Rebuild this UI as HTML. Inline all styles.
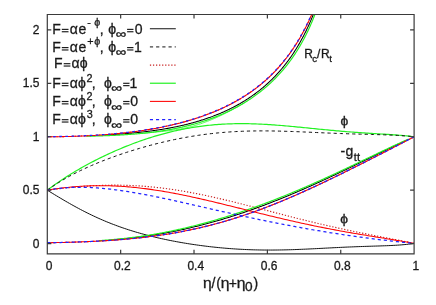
<!DOCTYPE html>
<html><head><meta charset="utf-8"><title>plot</title>
<style>
html,body{margin:0;padding:0;background:#fff;}
svg{display:block;}
text{font-family:"Liberation Sans",sans-serif;fill:#1a1a1a;white-space:pre;stroke:#1a1a1a;stroke-width:0.3px;}
path{fill:none;}
</style></head><body>
<svg width="436" height="305" viewBox="0 0 436 305">
<rect width="436" height="305" fill="#fff"/>
<defs><filter id="bl" x="0" y="0" width="436" height="305" filterUnits="userSpaceOnUse"><feGaussianBlur stdDeviation="0.35"/></filter><clipPath id="c"><rect x="47.30" y="14.50" width="366.80" height="239.30"/></clipPath></defs>
<g clip-path="url(#c)">
<path d="M108.53,134.84 L109.21,134.80 L109.89,134.76 L110.57,134.71 L111.25,134.67 L111.93,134.63 L112.61,134.59 L113.29,134.54 L113.97,134.50 L114.65,134.45 L115.33,134.41 L116.01,134.36 L116.69,134.31 L117.37,134.27 L118.05,134.22 L118.73,134.17 L119.41,134.12 L120.09,134.07 L120.77,134.02 L121.45,133.97 L122.13,133.91 L122.81,133.86 L123.49,133.81 L124.17,133.75 L124.85,133.70 L125.53,133.64 L126.21,133.59 L126.89,133.53 L127.57,133.47 L128.25,133.41 L128.93,133.35 L129.61,133.29 L130.29,133.23 L130.97,133.17 L131.65,133.11 L132.34,133.05 L133.02,132.98 L133.70,132.92 L134.38,132.85 L135.06,132.78 L135.74,132.72 L136.42,132.65 L137.10,132.58 L137.78,132.51 L138.46,132.44 L139.14,132.37 L139.82,132.29 L140.50,132.22 L141.18,132.14 L141.86,132.07 L142.54,131.99 L143.22,131.91 L143.90,131.84 L144.58,131.76 L145.26,131.67 L145.94,131.59 L146.62,131.51 L147.30,131.43 L147.98,131.34 L148.66,131.26 L149.34,131.17 L150.02,131.08 L150.70,130.99 L151.38,130.90 L152.06,130.81 L152.74,130.72 L153.42,130.62 L154.10,130.53 L154.78,130.43 L155.46,130.33 L156.14,130.23 L156.83,130.13 L157.51,130.03 L158.19,129.93 L158.87,129.83 L159.55,129.72 L160.23,129.62 L160.91,129.51 L161.59,129.40 L162.27,129.29 L162.95,129.18 L163.63,129.06 L164.31,128.95 L164.99,128.83 L165.67,128.72 L166.35,128.60 L167.03,128.48 L167.71,128.36 L168.39,128.24 L169.07,128.11 L169.75,127.99 L170.43,127.86 L171.11,127.73 L171.79,127.60 L172.47,127.47 L173.15,127.33 L173.83,127.20 L174.51,127.06 L175.19,126.93 L175.87,126.79 L176.55,126.64 L177.23,126.50 L177.91,126.36 L178.59,126.21 L179.27,126.06 L179.95,125.91 L180.64,125.76 L181.32,125.61 L182.00,125.45 L182.68,125.30 L183.36,125.14 L184.04,124.98 L184.72,124.82 L185.40,124.65 L186.08,124.49 L186.76,124.32 L187.44,124.15 L188.12,123.98 L188.80,123.81 L189.48,123.63 L190.16,123.45 L190.84,123.27 L191.52,123.09 L192.20,122.91 L192.88,122.72 L193.56,122.54 L194.24,122.35 L194.92,122.16 L195.60,121.96 L196.28,121.77 L196.96,121.57 L197.64,121.37 L198.32,121.17 L199.00,120.96 L199.68,120.76 L200.36,120.55 L201.04,120.34 L201.72,120.12 L202.40,119.91 L203.08,119.69 L203.76,119.47 L204.44,119.25 L205.13,119.02 L205.81,118.79 L206.49,118.56 L207.17,118.33 L207.85,118.09 L208.53,117.86 L209.21,117.62 L209.89,117.37 L210.57,117.13 L211.25,116.88 L211.93,116.63 L212.61,116.37 L213.29,116.12 L213.97,115.86 L214.65,115.60 L215.33,115.33 L216.01,115.07 L216.69,114.79 L217.37,114.52 L218.05,114.25 L218.73,113.97 L219.41,113.68 L220.09,113.40 L220.77,113.11 L221.45,112.82 L222.13,112.53 L222.81,112.23 L223.49,111.93 L224.17,111.62 L224.85,111.32 L225.53,111.01 L226.21,110.69 L226.89,110.38 L227.57,110.06 L228.25,109.73 L228.93,109.41 L229.62,109.07 L230.30,108.74 L230.98,108.40 L231.66,108.06 L232.34,107.72 L233.02,107.37 L233.70,107.01 L234.38,106.66 L235.06,106.30 L235.74,105.93 L236.42,105.57 L237.10,105.19 L237.78,104.82 L238.46,104.44 L239.14,104.05 L239.82,103.67 L240.50,103.27 L241.18,102.88 L241.86,102.48 L242.54,102.07 L243.22,101.66 L243.90,101.25 L244.58,100.83 L245.26,100.40 L245.94,99.98 L246.62,99.54 L247.30,99.10 L247.98,98.66 L248.66,98.21 L249.34,97.76 L250.02,97.30 L250.70,96.84 L251.38,96.37 L252.06,95.90 L252.74,95.42 L253.43,94.94 L254.11,94.45 L254.79,93.96 L255.47,93.46 L256.15,92.95 L256.83,92.44 L257.51,91.92 L258.19,91.40 L258.87,90.87 L259.55,90.33 L260.23,89.79 L260.91,89.24 L261.59,88.69 L262.27,88.12 L262.95,87.56 L263.63,86.98 L264.31,86.40 L264.99,85.81 L265.67,85.22 L266.35,84.61 L267.03,84.00 L267.71,83.39 L268.39,82.76 L269.07,82.13 L269.75,81.49 L270.43,80.84 L271.11,80.19 L271.79,79.52 L272.47,78.85 L273.15,78.17 L273.83,77.48 L274.51,76.78 L275.19,76.07 L275.87,75.36 L276.55,74.63 L277.23,73.90 L277.92,73.15 L278.60,72.40 L279.28,71.63 L279.96,70.86 L280.64,70.08 L281.32,69.28 L282.00,68.48 L282.68,67.66 L283.36,66.83 L284.04,65.99 L284.72,65.14 L285.40,64.28 L286.08,63.41 L286.76,62.52 L287.44,61.62 L288.12,60.71 L288.80,59.78 L289.48,58.84 L290.16,57.89 L290.84,56.93 L291.52,55.94 L292.20,54.95 L292.88,53.94 L293.56,52.92 L294.24,51.87 L294.92,50.82 L295.60,49.75 L296.28,48.66 L296.96,47.55 L297.64,46.43 L298.32,45.28 L299.00,44.12 L299.68,42.94 L300.36,41.75 L301.04,40.53 L301.72,39.29 L302.41,38.03 L303.09,36.75 L303.77,35.45 L304.45,34.12 L305.13,32.78 L305.81,31.41 L306.49,30.01 L307.17,28.59 L307.85,27.15 L308.53,25.68 L309.21,24.18 L309.89,22.65 L310.57,21.09 L311.25,19.51 L311.93,17.90 L312.61,16.25 L313.29,14.57 L313.97,12.86 L314.65,11.12 L315.33,9.34 L316.01,7.52 L316.69,5.67 L317.37,3.77 L318.05,1.84 L318.73,-0.13" stroke="#000" stroke-width="1.05"/>
<path d="M47.30,190.20 L49.14,191.32 L50.99,192.45 L52.83,193.57 L54.67,194.69 L56.52,195.80 L58.36,196.91 L60.20,198.01 L62.05,199.10 L63.89,200.19 L65.73,201.27 L67.58,202.33 L69.42,203.39 L71.26,204.43 L73.11,205.46 L74.95,206.48 L76.79,207.49 L78.63,208.48 L80.48,209.46 L82.32,210.42 L84.16,211.37 L86.01,212.31 L87.85,213.23 L89.69,214.14 L91.54,215.03 L93.38,215.90 L95.22,216.76 L97.07,217.61 L98.91,218.44 L100.75,219.25 L102.60,220.05 L104.44,220.84 L106.28,221.61 L108.13,222.36 L109.97,223.10 L111.81,223.83 L113.66,224.54 L115.50,225.23 L117.34,225.92 L119.19,226.58 L121.03,227.24 L122.87,227.88 L124.72,228.51 L126.56,229.13 L128.40,229.73 L130.24,230.32 L132.09,230.90 L133.93,231.46 L135.77,232.02 L137.62,232.56 L139.46,233.09 L141.30,233.61 L143.15,234.12 L144.99,234.62 L146.83,235.10 L148.68,235.58 L150.52,236.05 L152.36,236.51 L154.21,236.95 L156.05,237.39 L157.89,237.82 L159.74,238.24 L161.58,238.65 L163.42,239.06 L165.27,239.45 L167.11,239.83 L168.95,240.21 L170.80,240.58 L172.64,240.94 L174.48,241.29 L176.33,241.64 L178.17,241.98 L180.01,242.31 L181.85,242.63 L183.70,242.94 L185.54,243.25 L187.38,243.55 L189.23,243.85 L191.07,244.13 L192.91,244.41 L194.76,244.68 L196.60,244.95 L198.44,245.21 L200.29,245.46 L202.13,245.70 L203.97,245.94 L205.82,246.17 L207.66,246.40 L209.50,246.62 L211.35,246.83 L213.19,247.03 L215.03,247.23 L216.88,247.42 L218.72,247.60 L220.56,247.78 L222.41,247.95 L224.25,248.12 L226.09,248.27 L227.94,248.42 L229.78,248.57 L231.62,248.70 L233.46,248.83 L235.31,248.96 L237.15,249.08 L238.99,249.19 L240.84,249.29 L242.68,249.39 L244.52,249.48 L246.37,249.56 L248.21,249.64 L250.05,249.71 L251.90,249.77 L253.74,249.83 L255.58,249.88 L257.43,249.92 L259.27,249.96 L261.11,249.99 L262.96,250.02 L264.80,250.04 L266.64,250.05 L268.49,250.06 L270.33,250.06 L272.17,250.05 L274.02,250.04 L275.86,250.03 L277.70,250.01 L279.55,249.98 L281.39,249.95 L283.23,249.91 L285.07,249.87 L286.92,249.83 L288.76,249.78 L290.60,249.72 L292.45,249.66 L294.29,249.60 L296.13,249.53 L297.98,249.46 L299.82,249.39 L301.66,249.31 L303.51,249.23 L305.35,249.15 L307.19,249.07 L309.04,248.98 L310.88,248.89 L312.72,248.80 L314.57,248.71 L316.41,248.62 L318.25,248.52 L320.10,248.43 L321.94,248.33 L323.78,248.24 L325.63,248.14 L327.47,248.05 L329.31,247.95 L331.16,247.86 L333.00,247.76 L334.84,247.67 L336.68,247.58 L338.53,247.49 L340.37,247.40 L342.21,247.31 L344.06,247.23 L345.90,247.14 L347.74,247.06 L349.59,246.98 L351.43,246.91 L353.27,246.83 L355.12,246.76 L356.96,246.69 L358.80,246.62 L360.65,246.56 L362.49,246.49 L364.33,246.43 L366.18,246.37 L368.02,246.31 L369.86,246.25 L371.71,246.20 L373.55,246.14 L375.39,246.08 L377.24,246.02 L379.08,245.97 L380.92,245.90 L382.77,245.84 L384.61,245.78 L386.45,245.71 L388.29,245.63 L390.14,245.55 L391.98,245.46 L393.82,245.37 L395.67,245.27 L397.51,245.15 L399.35,245.03 L401.20,244.89 L403.04,244.73 L404.88,244.56 L406.73,244.38 L408.57,244.17 L410.41,243.94 L412.26,243.68 L414.10,243.40" stroke="#111" stroke-width="1.0"/>
<path d="M113.49,239.74 L114.41,239.66 L115.33,239.58 L116.25,239.50 L117.17,239.42 L118.09,239.34 L119.01,239.26 L119.92,239.17 L120.84,239.08 L121.76,238.99 L122.68,238.90 L123.60,238.81 L124.52,238.72 L125.44,238.62 L126.36,238.53 L127.28,238.43 L128.20,238.33 L129.12,238.23 L130.04,238.13 L130.96,238.02 L131.88,237.92 L132.79,237.81 L133.71,237.70 L134.63,237.59 L135.55,237.48 L136.47,237.37 L137.39,237.25 L138.31,237.14 L139.23,237.02 L140.15,236.90 L141.07,236.78 L141.99,236.65 L142.91,236.53 L143.83,236.40 L144.75,236.27 L145.66,236.14 L146.58,236.01 L147.50,235.88 L148.42,235.75 L149.34,235.61 L150.26,235.47 L151.18,235.33 L152.10,235.19 L153.02,235.05 L153.94,234.90 L154.86,234.76 L155.78,234.61 L156.70,234.46 L157.62,234.31 L158.54,234.16 L159.45,234.00 L160.37,233.84 L161.29,233.69 L162.21,233.53 L163.13,233.36 L164.05,233.20 L164.97,233.04 L165.89,232.87 L166.81,232.70 L167.73,232.53 L168.65,232.36 L169.57,232.19 L170.49,232.01 L171.41,231.83 L172.32,231.65 L173.24,231.47 L174.16,231.29 L175.08,231.11 L176.00,230.92 L176.92,230.73 L177.84,230.54 L178.76,230.35 L179.68,230.16 L180.60,229.96 L181.52,229.77 L182.44,229.57 L183.36,229.37 L184.28,229.17 L185.19,228.97 L186.11,228.76 L187.03,228.55 L187.95,228.34 L188.87,228.13 L189.79,227.92 L190.71,227.71 L191.63,227.49 L192.55,227.28 L193.47,227.06 L194.39,226.84 L195.31,226.61 L196.23,226.39 L197.15,226.16 L198.06,225.94 L198.98,225.71 L199.90,225.47 L200.82,225.24 L201.74,225.01 L202.66,224.77 L203.58,224.53 L204.50,224.29 L205.42,224.05 L206.34,223.81 L207.26,223.56 L208.18,223.32 L209.10,223.07 L210.02,222.82 L210.94,222.57 L211.85,222.31 L212.77,222.06 L213.69,221.80 L214.61,221.54 L215.53,221.28 L216.45,221.02 L217.37,220.75 L218.29,220.49 L219.21,220.22 L220.13,219.95 L221.05,219.68 L221.97,219.41 L222.89,219.14 L223.81,218.86 L224.72,218.58 L225.64,218.30 L226.56,218.02 L227.48,217.74 L228.40,217.46 L229.32,217.17 L230.24,216.88 L231.16,216.60 L232.08,216.31 L233.00,216.01 L233.92,215.72 L234.84,215.42 L235.76,215.13 L236.68,214.83 L237.59,214.53 L238.51,214.23 L239.43,213.92 L240.35,213.62 L241.27,213.31 L242.19,213.00 L243.11,212.69 L244.03,212.38 L244.95,212.07 L245.87,211.75 L246.79,211.44 L247.71,211.12 L248.63,210.80 L249.55,210.48 L250.46,210.16 L251.38,209.83 L252.30,209.51 L253.22,209.18 L254.14,208.85 L255.06,208.52 L255.98,208.19 L256.90,207.86 L257.82,207.52 L258.74,207.18 L259.66,206.85 L260.58,206.51 L261.50,206.17 L262.42,205.82 L263.34,205.48 L264.25,205.14 L265.17,204.79 L266.09,204.44 L267.01,204.09 L267.93,203.74 L268.85,203.39 L269.77,203.03 L270.69,202.68 L271.61,202.32 L272.53,201.96 L273.45,201.60 L274.37,201.24 L275.29,200.88 L276.21,200.52 L277.12,200.15 L278.04,199.78 L278.96,199.42 L279.88,199.05 L280.80,198.68 L281.72,198.30 L282.64,197.93 L283.56,197.56 L284.48,197.18 L285.40,196.80 L286.32,196.42 L287.24,196.04 L288.16,195.66 L289.08,195.28 L289.99,194.90 L290.91,194.51 L291.83,194.13 L292.75,193.74 L293.67,193.35 L294.59,192.96 L295.51,192.57 L296.43,192.18 L297.35,191.78 L298.27,191.39 L299.19,190.99 L300.11,190.59 L301.03,190.20 L301.95,189.80 L302.86,189.40 L303.78,188.99 L304.70,188.59 L305.62,188.19 L306.54,187.78 L307.46,187.38 L308.38,186.97 L309.30,186.56 L310.22,186.15 L311.14,185.74 L312.06,185.33 L312.98,184.92 L313.90,184.50 L314.82,184.09 L315.74,183.67 L316.65,183.26 L317.57,182.84 L318.49,182.42 L319.41,182.00 L320.33,181.58 L321.25,181.16 L322.17,180.74 L323.09,180.31 L324.01,179.89 L324.93,179.46 L325.85,179.04 L326.77,178.61 L327.69,178.18 L328.61,177.75 L329.52,177.32 L330.44,176.89 L331.36,176.46 L332.28,176.03 L333.20,175.60 L334.12,175.17 L335.04,174.73 L335.96,174.30 L336.88,173.86 L337.80,173.43 L338.72,172.99 L339.64,172.55 L340.56,172.11 L341.48,171.68 L342.39,171.24 L343.31,170.80 L344.23,170.36 L345.15,169.92 L346.07,169.47 L346.99,169.03 L347.91,168.59 L348.83,168.15 L349.75,167.70 L350.67,167.26 L351.59,166.81 L352.51,166.37 L353.43,165.92 L354.35,165.48 L355.26,165.03 L356.18,164.59 L357.10,164.14 L358.02,163.69 L358.94,163.25 L359.86,162.80 L360.78,162.35 L361.70,161.90 L362.62,161.45 L363.54,161.01 L364.46,160.56 L365.38,160.11 L366.30,159.66 L367.22,159.21 L368.14,158.76 L369.05,158.31 L369.97,157.86 L370.89,157.41 L371.81,156.96 L372.73,156.51 L373.65,156.07 L374.57,155.62 L375.49,155.17 L376.41,154.72 L377.33,154.27 L378.25,153.82 L379.17,153.37 L380.09,152.92 L381.01,152.48 L381.92,152.03 L382.84,151.58 L383.76,151.13 L384.68,150.69 L385.60,150.24 L386.52,149.79 L387.44,149.35 L388.36,148.90 L389.28,148.46 L390.20,148.02 L391.12,147.57 L392.04,147.13 L392.96,146.69 L393.88,146.24 L394.79,145.80 L395.71,145.36 L396.63,144.92 L397.55,144.48 L398.47,144.05 L399.39,143.61 L400.31,143.17 L401.23,142.74 L402.15,142.30 L403.07,141.87 L403.99,141.44 L404.91,141.00 L405.83,140.57 L406.75,140.14" stroke="#000" stroke-width="1.05"/>
<path d="M47.30,136.75 L48.65,136.75 L50.00,136.75 L51.34,136.74 L52.69,136.73 L54.04,136.73 L55.39,136.71 L56.73,136.70 L58.08,136.69 L59.43,136.67 L60.78,136.65 L62.12,136.63 L63.47,136.61 L64.82,136.58 L66.17,136.55 L67.51,136.52 L68.86,136.49 L70.21,136.46 L71.56,136.42 L72.90,136.38 L74.25,136.34 L75.60,136.30 L76.95,136.25 L78.29,136.20 L79.64,136.15 L80.99,136.10 L82.34,136.04 L83.68,135.98 L85.03,135.92 L86.38,135.86 L87.73,135.79 L89.07,135.72 L90.42,135.65 L91.77,135.58 L93.12,135.50 L94.47,135.42 L95.81,135.34 L97.16,135.26 L98.51,135.17 L99.86,135.08 L101.20,134.99 L102.55,134.89 L103.90,134.79 L105.25,134.69 L106.59,134.58 L107.94,134.48 L109.29,134.36 L110.64,134.25 L111.98,134.13 L113.33,134.01 L114.68,133.89 L116.03,133.76 L117.37,133.63 L118.72,133.50 L120.07,133.36 L121.42,133.22 L122.76,133.07 L124.11,132.93 L125.46,132.78 L126.81,132.62 L128.15,132.46 L129.50,132.30 L130.85,132.13 L132.20,131.96 L133.54,131.79 L134.89,131.61 L136.24,131.43 L137.59,131.25 L138.94,131.06 L140.28,130.86 L141.63,130.67 L142.98,130.46 L144.33,130.26 L145.67,130.05 L147.02,129.83 L148.37,129.61 L149.72,129.39 L151.06,129.16 L152.41,128.93 L153.76,128.69 L155.11,128.45 L156.45,128.20 L157.80,127.95 L159.15,127.69 L160.50,127.43 L161.84,127.16 L163.19,126.89 L164.54,126.61 L165.89,126.33 L167.23,126.04 L168.58,125.74 L169.93,125.44 L171.28,125.14 L172.62,124.83 L173.97,124.51 L175.32,124.19 L176.67,123.86 L178.02,123.52 L179.36,123.18 L180.71,122.83 L182.06,122.48 L183.41,122.12 L184.75,121.75 L186.10,121.37 L187.45,120.99 L188.80,120.60 L190.14,120.21 L191.49,119.81 L192.84,119.39 L194.19,118.98 L195.53,118.55 L196.88,118.12 L198.23,117.67 L199.58,117.22 L200.92,116.77 L202.27,116.30 L203.62,115.82 L204.97,115.34 L206.31,114.85 L207.66,114.35 L209.01,113.83 L210.36,113.31 L211.70,112.78 L213.05,112.24 L214.40,111.69 L215.75,111.13 L217.09,110.56 L218.44,109.98 L219.79,109.38 L221.14,108.78 L222.49,108.16 L223.83,107.53 L225.18,106.89 L226.53,106.24 L227.88,105.58 L229.22,104.90 L230.57,104.21 L231.92,103.50 L233.27,102.79 L234.61,102.05 L235.96,101.31 L237.31,100.55 L238.66,99.77 L240.00,98.98 L241.35,98.17 L242.70,97.35 L244.05,96.51 L245.39,95.65 L246.74,94.77 L248.09,93.88 L249.44,92.97 L250.78,92.03 L252.13,91.08 L253.48,90.11 L254.83,89.12 L256.17,88.10 L257.52,87.07 L258.87,86.01 L260.22,84.93 L261.56,83.82 L262.91,82.69 L264.26,81.53 L265.61,80.35 L266.96,79.14 L268.30,77.90 L269.65,76.64 L271.00,75.34 L272.35,74.01 L273.69,72.65 L275.04,71.26 L276.39,69.84 L277.74,68.38 L279.08,66.88 L280.43,65.34 L281.78,63.77 L283.13,62.15 L284.47,60.49 L285.82,58.79 L287.17,57.04 L288.52,55.25 L289.86,53.41 L291.21,51.51 L292.56,49.57 L293.91,47.57 L295.25,45.51 L296.60,43.39 L297.95,41.21 L299.30,38.96 L300.64,36.64 L301.99,34.26 L303.34,31.80 L304.69,29.26 L306.03,26.64 L307.38,23.94 L308.73,21.14 L310.08,18.25 L311.43,15.27 L312.77,12.18 L314.12,8.98 L315.47,5.66" stroke="#c82020" stroke-width="1.05" stroke-dasharray="1.25 1.8"/>
<path d="M47.30,190.20 L49.14,189.97 L50.99,189.75 L52.83,189.52 L54.67,189.30 L56.52,189.09 L58.36,188.87 L60.20,188.66 L62.05,188.45 L63.89,188.25 L65.73,188.05 L67.58,187.86 L69.42,187.67 L71.26,187.48 L73.11,187.30 L74.95,187.13 L76.79,186.97 L78.63,186.80 L80.48,186.65 L82.32,186.50 L84.16,186.36 L86.01,186.23 L87.85,186.10 L89.69,185.98 L91.54,185.87 L93.38,185.77 L95.22,185.67 L97.07,185.58 L98.91,185.50 L100.75,185.43 L102.60,185.36 L104.44,185.31 L106.28,185.26 L108.13,185.22 L109.97,185.19 L111.81,185.17 L113.66,185.16 L115.50,185.16 L117.34,185.16 L119.19,185.18 L121.03,185.20 L122.87,185.23 L124.72,185.27 L126.56,185.32 L128.40,185.38 L130.24,185.45 L132.09,185.53 L133.93,185.62 L135.77,185.72 L137.62,185.82 L139.46,185.94 L141.30,186.06 L143.15,186.19 L144.99,186.33 L146.83,186.48 L148.68,186.64 L150.52,186.81 L152.36,186.99 L154.21,187.18 L156.05,187.37 L157.89,187.57 L159.74,187.78 L161.58,188.00 L163.42,188.23 L165.27,188.47 L167.11,188.72 L168.95,188.97 L170.80,189.23 L172.64,189.50 L174.48,189.78 L176.33,190.06 L178.17,190.35 L180.01,190.65 L181.85,190.96 L183.70,191.27 L185.54,191.59 L187.38,191.92 L189.23,192.25 L191.07,192.60 L192.91,192.94 L194.76,193.30 L196.60,193.66 L198.44,194.02 L200.29,194.40 L202.13,194.78 L203.97,195.16 L205.82,195.55 L207.66,195.94 L209.50,196.34 L211.35,196.75 L213.19,197.16 L215.03,197.57 L216.88,197.99 L218.72,198.42 L220.56,198.84 L222.41,199.28 L224.25,199.71 L226.09,200.15 L227.94,200.59 L229.78,201.04 L231.62,201.49 L233.46,201.94 L235.31,202.40 L237.15,202.86 L238.99,203.32 L240.84,203.78 L242.68,204.25 L244.52,204.72 L246.37,205.19 L248.21,205.66 L250.05,206.13 L251.90,206.61 L253.74,207.08 L255.58,207.56 L257.43,208.04 L259.27,208.52 L261.11,209.00 L262.96,209.48 L264.80,209.96 L266.64,210.44 L268.49,210.92 L270.33,211.40 L272.17,211.88 L274.02,212.36 L275.86,212.84 L277.70,213.32 L279.55,213.80 L281.39,214.28 L283.23,214.76 L285.07,215.23 L286.92,215.71 L288.76,216.18 L290.60,216.65 L292.45,217.12 L294.29,217.59 L296.13,218.06 L297.98,218.52 L299.82,218.99 L301.66,219.45 L303.51,219.90 L305.35,220.36 L307.19,220.81 L309.04,221.27 L310.88,221.72 L312.72,222.16 L314.57,222.61 L316.41,223.05 L318.25,223.49 L320.10,223.92 L321.94,224.36 L323.78,224.79 L325.63,225.21 L327.47,225.64 L329.31,226.06 L331.16,226.48 L333.00,226.89 L334.84,227.31 L336.68,227.72 L338.53,228.13 L340.37,228.53 L342.21,228.93 L344.06,229.33 L345.90,229.73 L347.74,230.12 L349.59,230.51 L351.43,230.90 L353.27,231.28 L355.12,231.66 L356.96,232.04 L358.80,232.42 L360.65,232.80 L362.49,233.17 L364.33,233.54 L366.18,233.91 L368.02,234.28 L369.86,234.64 L371.71,235.01 L373.55,235.37 L375.39,235.73 L377.24,236.09 L379.08,236.45 L380.92,236.81 L382.77,237.17 L384.61,237.53 L386.45,237.88 L388.29,238.24 L390.14,238.60 L391.98,238.96 L393.82,239.32 L395.67,239.68 L397.51,240.04 L399.35,240.40 L401.20,240.77 L403.04,241.13 L404.88,241.50 L406.73,241.88 L408.57,242.25 L410.41,242.63 L412.26,243.01 L414.10,243.40" stroke="#c82020" stroke-width="1.15" stroke-dasharray="1.25 1.8"/>
<path d="M47.30,242.70 L49.14,242.68 L50.99,242.66 L52.83,242.64 L54.67,242.61 L56.52,242.58 L58.36,242.55 L60.20,242.51 L62.05,242.47 L63.89,242.43 L65.73,242.39 L67.58,242.34 L69.42,242.29 L71.26,242.23 L73.11,242.18 L74.95,242.12 L76.79,242.05 L78.63,241.99 L80.48,241.92 L82.32,241.85 L84.16,241.78 L86.01,241.70 L87.85,241.62 L89.69,241.54 L91.54,241.45 L93.38,241.36 L95.22,241.27 L97.07,241.17 L98.91,241.07 L100.75,240.97 L102.60,240.86 L104.44,240.75 L106.28,240.63 L108.13,240.52 L109.97,240.39 L111.81,240.27 L113.66,240.14 L115.50,240.00 L117.34,239.86 L119.19,239.72 L121.03,239.57 L122.87,239.42 L124.72,239.26 L126.56,239.10 L128.40,238.94 L130.24,238.77 L132.09,238.59 L133.93,238.41 L135.77,238.22 L137.62,238.03 L139.46,237.83 L141.30,237.63 L143.15,237.42 L144.99,237.21 L146.83,236.99 L148.68,236.76 L150.52,236.53 L152.36,236.29 L154.21,236.05 L156.05,235.80 L157.89,235.54 L159.74,235.28 L161.58,235.01 L163.42,234.73 L165.27,234.45 L167.11,234.16 L168.95,233.86 L170.80,233.56 L172.64,233.24 L174.48,232.93 L176.33,232.60 L178.17,232.27 L180.01,231.93 L181.85,231.58 L183.70,231.23 L185.54,230.86 L187.38,230.49 L189.23,230.12 L191.07,229.73 L192.91,229.34 L194.76,228.94 L196.60,228.53 L198.44,228.11 L200.29,227.69 L202.13,227.26 L203.97,226.82 L205.82,226.37 L207.66,225.91 L209.50,225.45 L211.35,224.97 L213.19,224.49 L215.03,224.01 L216.88,223.51 L218.72,223.00 L220.56,222.49 L222.41,221.97 L224.25,221.44 L226.09,220.91 L227.94,220.36 L229.78,219.81 L231.62,219.25 L233.46,218.68 L235.31,218.10 L237.15,217.52 L238.99,216.92 L240.84,216.32 L242.68,215.72 L244.52,215.10 L246.37,214.48 L248.21,213.84 L250.05,213.20 L251.90,212.56 L253.74,211.90 L255.58,211.24 L257.43,210.57 L259.27,209.90 L261.11,209.21 L262.96,208.52 L264.80,207.82 L266.64,207.12 L268.49,206.40 L270.33,205.69 L272.17,204.96 L274.02,204.23 L275.86,203.49 L277.70,202.74 L279.55,201.99 L281.39,201.23 L283.23,200.47 L285.07,199.70 L286.92,198.92 L288.76,198.14 L290.60,197.35 L292.45,196.55 L294.29,195.75 L296.13,194.95 L297.98,194.14 L299.82,193.32 L301.66,192.50 L303.51,191.67 L305.35,190.84 L307.19,190.01 L309.04,189.17 L310.88,188.32 L312.72,187.47 L314.57,186.62 L316.41,185.76 L318.25,184.90 L320.10,184.03 L321.94,183.16 L323.78,182.29 L325.63,181.41 L327.47,180.53 L329.31,179.64 L331.16,178.76 L333.00,177.87 L334.84,176.97 L336.68,176.08 L338.53,175.18 L340.37,174.27 L342.21,173.37 L344.06,172.46 L345.90,171.55 L347.74,170.64 L349.59,169.73 L351.43,168.81 L353.27,167.89 L355.12,166.97 L356.96,166.05 L358.80,165.12 L360.65,164.20 L362.49,163.27 L364.33,162.34 L366.18,161.41 L368.02,160.48 L369.86,159.55 L371.71,158.61 L373.55,157.68 L375.39,156.74 L377.24,155.80 L379.08,154.86 L380.92,153.92 L382.77,152.98 L384.61,152.03 L386.45,151.09 L388.29,150.14 L390.14,149.20 L391.98,148.25 L393.82,147.30 L395.67,146.35 L397.51,145.40 L399.35,144.44 L401.20,143.49 L403.04,142.53 L404.88,141.57 L406.73,140.61 L408.57,139.65 L410.41,138.68 L412.26,137.72 L414.10,136.75" stroke="#c82020" stroke-width="1.05" stroke-dasharray="1.25 1.8"/>
<path d="M140.00,133.55 L141.78,133.39 L143.56,133.22 L145.34,133.06 L147.12,132.90 L148.90,132.74 L150.68,132.58 L152.46,132.42 L154.24,132.26 L156.02,132.09 L157.80,131.92 L159.58,131.75 L161.36,131.57 L163.14,131.39 L164.92,131.19 L166.69,130.99 L168.47,130.77 L170.25,130.54 L172.03,130.30 L173.81,130.05 L175.59,129.78 L177.37,129.49 L179.15,129.18 L180.93,128.86 L182.71,128.51 L184.49,128.15 L186.27,127.76 L188.05,127.35 L189.83,126.91 L191.61,126.46 L193.39,125.98 L195.17,125.47 L196.95,124.94 L198.73,124.39 L200.51,123.81 L202.29,123.20 L204.07,122.58 L205.85,121.92 L207.63,121.25 L209.41,120.55 L211.19,119.83 L212.97,119.08 L214.75,118.32 L216.53,117.53 L218.31,116.72 L220.08,115.89 L221.86,115.04 L223.64,114.18 L225.42,113.29 L227.20,112.38 L228.98,111.46 L230.76,110.52 L232.54,109.56 L234.32,108.59 L236.10,107.60 L237.88,106.59 L239.66,105.56 L241.44,104.51 L243.22,103.45 L245.00,102.37" stroke="#3f3" stroke-width="0.8"/>
<path d="M86.34,136.26 L87.02,136.25 L87.71,136.23 L88.39,136.21 L89.08,136.20 L89.76,136.18 L90.45,136.16 L91.13,136.15 L91.82,136.13 L92.50,136.11 L93.19,136.09 L93.87,136.07 L94.56,136.05 L95.24,136.04 L95.93,136.02 L96.61,136.00 L97.30,135.98 L97.98,135.95 L98.67,135.93 L99.35,135.91 L100.04,135.89 L100.72,135.87 L101.41,135.84 L102.09,135.82 L102.78,135.80 L103.46,135.77 L104.14,135.75 L104.83,135.72 L105.51,135.70 L106.20,135.67 L106.88,135.65 L107.57,135.62 L108.25,135.59 L108.94,135.56 L109.62,135.53 L110.31,135.50 L110.99,135.48 L111.68,135.44 L112.36,135.41 L113.05,135.38 L113.73,135.35 L114.42,135.32 L115.10,135.28 L115.79,135.25 L116.47,135.22 L117.16,135.18 L117.84,135.14 L118.53,135.11 L119.21,135.07 L119.90,135.03 L120.58,134.99 L121.27,134.95 L121.95,134.91 L122.64,134.87 L123.32,134.83 L124.01,134.79 L124.69,134.75 L125.38,134.70 L126.06,134.66 L126.75,134.61 L127.43,134.57 L128.12,134.52 L128.80,134.47 L129.49,134.42 L130.17,134.37 L130.86,134.32 L131.54,134.27 L132.22,134.22 L132.91,134.16 L133.59,134.11 L134.28,134.05 L134.96,134.00 L135.65,133.94 L136.33,133.88 L137.02,133.82 L137.70,133.76 L138.39,133.70 L139.07,133.64 L139.76,133.57 L140.44,133.51 L141.13,133.44 L141.81,133.38 L142.50,133.31 L143.18,133.24 L143.87,133.17 L144.55,133.10 L145.24,133.03 L145.92,132.96 L146.61,132.88 L147.29,132.80 L147.98,132.73 L148.66,132.65 L149.35,132.57 L150.03,132.49 L150.72,132.41 L151.40,132.32 L152.09,132.24 L152.77,132.15 L153.46,132.07 L154.14,131.98 L154.83,131.89 L155.51,131.80 L156.20,131.71 L156.88,131.61 L157.57,131.52 L158.25,131.42 L158.93,131.32 L159.62,131.22 L160.30,131.12 L160.99,131.02 L161.67,130.92 L162.36,130.81 L163.04,130.71 L163.73,130.60 L164.41,130.49 L165.10,130.38 L165.78,130.27 L166.47,130.15 L167.15,130.04 L167.84,129.92 L168.52,129.80 L169.21,129.68 L169.89,129.56 L170.58,129.43 L171.26,129.31 L171.95,129.18 L172.63,129.05 L173.32,128.92 L174.00,128.79 L174.69,128.66 L175.37,128.52 L176.06,128.38 L176.74,128.24 L177.43,128.10 L178.11,127.96 L178.80,127.82 L179.48,127.67 L180.17,127.52 L180.85,127.37 L181.54,127.22 L182.22,127.06 L182.91,126.91 L183.59,126.75 L184.28,126.59 L184.96,126.43 L185.65,126.27 L186.33,126.10 L187.01,125.93 L187.70,125.76 L188.38,125.59 L189.07,125.42 L189.75,125.24 L190.44,125.07 L191.12,124.89 L191.81,124.70 L192.49,124.52 L193.18,124.33 L193.86,124.15 L194.55,123.96 L195.23,123.76 L195.92,123.57 L196.60,123.37 L197.29,123.17 L197.97,122.97 L198.66,122.77 L199.34,122.56 L200.03,122.35 L200.71,122.14 L201.40,121.93 L202.08,121.71 L202.77,121.49 L203.45,121.27 L204.14,121.05 L204.82,120.82 L205.51,120.59 L206.19,120.36 L206.88,120.13 L207.56,119.90 L208.25,119.66 L208.93,119.42 L209.62,119.17 L210.30,118.93 L210.99,118.68 L211.67,118.43 L212.36,118.17 L213.04,117.92 L213.73,117.66 L214.41,117.39 L215.09,117.13 L215.78,116.86 L216.46,116.59 L217.15,116.32 L217.83,116.04 L218.52,115.76 L219.20,115.48 L219.89,115.19 L220.57,114.90 L221.26,114.61 L221.94,114.32 L222.63,114.02 L223.31,113.72 L224.00,113.41 L224.68,113.11 L225.37,112.79 L226.05,112.48 L226.74,112.16 L227.42,111.84 L228.11,111.52 L228.79,111.19 L229.48,110.86 L230.16,110.53 L230.85,110.19 L231.53,109.85 L232.22,109.50 L232.90,109.16 L233.59,108.80 L234.27,108.45 L234.96,108.09 L235.64,107.73 L236.33,107.36 L237.01,106.99 L237.70,106.61 L238.38,106.24 L239.07,105.85 L239.75,105.47 L240.44,105.08 L241.12,104.68 L241.81,104.28 L242.49,103.88 L243.17,103.47 L243.86,103.06 L244.54,102.65 L245.23,102.22 L245.91,101.80 L246.60,101.37 L247.28,100.94 L247.97,100.50 L248.65,100.06 L249.34,99.61 L250.02,99.15 L250.71,98.70 L251.39,98.23 L252.08,97.77 L252.76,97.29 L253.45,96.82 L254.13,96.33 L254.82,95.84 L255.50,95.35 L256.19,94.85 L256.87,94.35 L257.56,93.84 L258.24,93.32 L258.93,92.80 L259.61,92.27 L260.30,91.74 L260.98,91.20 L261.67,90.65 L262.35,90.10 L263.04,89.54 L263.72,88.98 L264.41,88.41 L265.09,87.83 L265.78,87.25 L266.46,86.65 L267.15,86.06 L267.83,85.45 L268.52,84.84 L269.20,84.22 L269.89,83.59 L270.57,82.96 L271.25,82.32 L271.94,81.67 L272.62,81.01 L273.31,80.34 L273.99,79.67 L274.68,78.98 L275.36,78.29 L276.05,77.59 L276.73,76.88 L277.42,76.16 L278.10,75.44 L278.79,74.70 L279.47,73.95 L280.16,73.20 L280.84,72.43 L281.53,71.65 L282.21,70.87 L282.90,70.07 L283.58,69.26 L284.27,68.44 L284.95,67.61 L285.64,66.77 L286.32,65.91 L287.01,65.04 L287.69,64.17 L288.38,63.27 L289.06,62.37 L289.75,61.45 L290.43,60.52 L291.12,59.57 L291.80,58.61 L292.49,57.64 L293.17,56.65 L293.86,55.64 L294.54,54.62 L295.23,53.59 L295.91,52.53 L296.60,51.46 L297.28,50.38 L297.97,49.27 L298.65,48.15 L299.33,47.01 L300.02,45.84 L300.70,44.66 L301.39,43.46 L302.07,42.24 L302.76,40.99 L303.44,39.73 L304.13,38.44 L304.81,37.12 L305.50,35.79 L306.18,34.43 L306.87,33.04 L307.55,31.62 L308.24,30.18 L308.92,28.71 L309.61,27.22 L310.29,25.69 L310.98,24.13 L311.66,22.54 L312.35,20.91 L313.03,19.26 L313.72,17.56 L314.40,15.83 L315.09,14.07 L315.77,12.26 L316.46,10.42 L317.14,8.53 L317.83,6.60 L318.51,4.62 L319.20,2.60 L319.88,0.53 L320.57,-1.59" stroke="#22f222" stroke-width="1.2"/>
<path d="M47.30,190.20 L49.14,188.81 L50.99,187.44 L52.83,186.10 L54.67,184.78 L56.52,183.48 L58.36,182.21 L60.20,180.95 L62.05,179.72 L63.89,178.50 L65.73,177.31 L67.58,176.13 L69.42,174.97 L71.26,173.83 L73.11,172.70 L74.95,171.60 L76.79,170.51 L78.63,169.43 L80.48,168.37 L82.32,167.32 L84.16,166.29 L86.01,165.28 L87.85,164.27 L89.69,163.29 L91.54,162.31 L93.38,161.35 L95.22,160.40 L97.07,159.47 L98.91,158.54 L100.75,157.64 L102.60,156.74 L104.44,155.85 L106.28,154.98 L108.13,154.12 L109.97,153.27 L111.81,152.44 L113.66,151.61 L115.50,150.80 L117.34,150.00 L119.19,149.21 L121.03,148.43 L122.87,147.66 L124.72,146.91 L126.56,146.17 L128.40,145.44 L130.24,144.72 L132.09,144.01 L133.93,143.31 L135.77,142.63 L137.62,141.96 L139.46,141.30 L141.30,140.65 L143.15,140.01 L144.99,139.39 L146.83,138.77 L148.68,138.17 L150.52,137.58 L152.36,137.01 L154.21,136.44 L156.05,135.89 L157.89,135.35 L159.74,134.82 L161.58,134.30 L163.42,133.80 L165.27,133.30 L167.11,132.82 L168.95,132.36 L170.80,131.90 L172.64,131.46 L174.48,131.03 L176.33,130.61 L178.17,130.21 L180.01,129.81 L181.85,129.43 L183.70,129.07 L185.54,128.71 L187.38,128.37 L189.23,128.04 L191.07,127.72 L192.91,127.42 L194.76,127.12 L196.60,126.84 L198.44,126.58 L200.29,126.32 L202.13,126.08 L203.97,125.85 L205.82,125.63 L207.66,125.42 L209.50,125.23 L211.35,125.04 L213.19,124.87 L215.03,124.71 L216.88,124.57 L218.72,124.43 L220.56,124.31 L222.41,124.19 L224.25,124.09 L226.09,124.00 L227.94,123.92 L229.78,123.85 L231.62,123.79 L233.46,123.75 L235.31,123.71 L237.15,123.68 L238.99,123.66 L240.84,123.66 L242.68,123.66 L244.52,123.67 L246.37,123.69 L248.21,123.72 L250.05,123.76 L251.90,123.81 L253.74,123.86 L255.58,123.92 L257.43,123.99 L259.27,124.07 L261.11,124.16 L262.96,124.25 L264.80,124.35 L266.64,124.46 L268.49,124.57 L270.33,124.69 L272.17,124.82 L274.02,124.95 L275.86,125.08 L277.70,125.23 L279.55,125.37 L281.39,125.52 L283.23,125.68 L285.07,125.84 L286.92,126.00 L288.76,126.16 L290.60,126.33 L292.45,126.50 L294.29,126.68 L296.13,126.85 L297.98,127.03 L299.82,127.21 L301.66,127.39 L303.51,127.58 L305.35,127.76 L307.19,127.94 L309.04,128.13 L310.88,128.31 L312.72,128.50 L314.57,128.68 L316.41,128.87 L318.25,129.05 L320.10,129.23 L321.94,129.41 L323.78,129.59 L325.63,129.77 L327.47,129.95 L329.31,130.12 L331.16,130.29 L333.00,130.46 L334.84,130.63 L336.68,130.80 L338.53,130.96 L340.37,131.12 L342.21,131.28 L344.06,131.43 L345.90,131.58 L347.74,131.73 L349.59,131.88 L351.43,132.02 L353.27,132.16 L355.12,132.30 L356.96,132.43 L358.80,132.56 L360.65,132.69 L362.49,132.82 L364.33,132.94 L366.18,133.06 L368.02,133.18 L369.86,133.30 L371.71,133.42 L373.55,133.54 L375.39,133.65 L377.24,133.76 L379.08,133.88 L380.92,133.99 L382.77,134.11 L384.61,134.22 L386.45,134.34 L388.29,134.46 L390.14,134.58 L391.98,134.71 L393.82,134.84 L395.67,134.97 L397.51,135.11 L399.35,135.26 L401.20,135.41 L403.04,135.57 L404.88,135.74 L406.73,135.92 L408.57,136.11 L410.41,136.31 L412.26,136.52 L414.10,136.75" stroke="#22f222" stroke-width="1.2"/>
<path d="M47.30,190.20 L49.14,188.88 L50.99,187.58 L52.83,186.33 L54.67,185.10 L56.52,183.90 L58.36,182.73 L60.20,181.59 L62.05,180.48 L63.89,179.39 L65.73,178.32 L67.58,177.28 L69.42,176.27 L71.26,175.27 L73.11,174.29 L74.95,173.34 L76.79,172.40 L78.63,171.48 L80.48,170.58 L82.32,169.70 L84.16,168.83 L86.01,167.98 L87.85,167.14 L89.69,166.32 L91.54,165.52 L93.38,164.72 L95.22,163.94 L97.07,163.18 L98.91,162.42 L100.75,161.68 L102.60,160.95 L104.44,160.23 L106.28,159.52 L108.13,158.82 L109.97,158.13 L111.81,157.45 L113.66,156.79 L115.50,156.13 L117.34,155.48 L119.19,154.84 L121.03,154.21 L122.87,153.59 L124.72,152.98 L126.56,152.37 L128.40,151.78 L130.24,151.19 L132.09,150.61 L133.93,150.04 L135.77,149.48 L137.62,148.93 L139.46,148.38 L141.30,147.85 L143.15,147.32 L144.99,146.80 L146.83,146.28 L148.68,145.78 L150.52,145.28 L152.36,144.79 L154.21,144.31 L156.05,143.84 L157.89,143.38 L159.74,142.92 L161.58,142.47 L163.42,142.04 L165.27,141.60 L167.11,141.18 L168.95,140.77 L170.80,140.36 L172.64,139.96 L174.48,139.57 L176.33,139.19 L178.17,138.82 L180.01,138.46 L181.85,138.10 L183.70,137.76 L185.54,137.42 L187.38,137.09 L189.23,136.77 L191.07,136.46 L192.91,136.16 L194.76,135.86 L196.60,135.58 L198.44,135.30 L200.29,135.03 L202.13,134.77 L203.97,134.52 L205.82,134.28 L207.66,134.05 L209.50,133.83 L211.35,133.61 L213.19,133.41 L215.03,133.21 L216.88,133.02 L218.72,132.84 L220.56,132.67 L222.41,132.50 L224.25,132.35 L226.09,132.20 L227.94,132.07 L229.78,131.94 L231.62,131.81 L233.46,131.70 L235.31,131.60 L237.15,131.50 L238.99,131.41 L240.84,131.33 L242.68,131.25 L244.52,131.19 L246.37,131.13 L248.21,131.07 L250.05,131.03 L251.90,130.99 L253.74,130.96 L255.58,130.93 L257.43,130.91 L259.27,130.90 L261.11,130.89 L262.96,130.89 L264.80,130.90 L266.64,130.91 L268.49,130.92 L270.33,130.94 L272.17,130.97 L274.02,131.00 L275.86,131.03 L277.70,131.07 L279.55,131.12 L281.39,131.17 L283.23,131.22 L285.07,131.27 L286.92,131.33 L288.76,131.39 L290.60,131.45 L292.45,131.52 L294.29,131.59 L296.13,131.66 L297.98,131.73 L299.82,131.81 L301.66,131.88 L303.51,131.96 L305.35,132.04 L307.19,132.12 L309.04,132.20 L310.88,132.28 L312.72,132.36 L314.57,132.45 L316.41,132.53 L318.25,132.61 L320.10,132.69 L321.94,132.77 L323.78,132.85 L325.63,132.93 L327.47,133.01 L329.31,133.08 L331.16,133.16 L333.00,133.23 L334.84,133.31 L336.68,133.38 L338.53,133.45 L340.37,133.52 L342.21,133.59 L344.06,133.65 L345.90,133.71 L347.74,133.78 L349.59,133.84 L351.43,133.89 L353.27,133.95 L355.12,134.01 L356.96,134.06 L358.80,134.11 L360.65,134.17 L362.49,134.22 L364.33,134.27 L366.18,134.32 L368.02,134.36 L369.86,134.41 L371.71,134.46 L373.55,134.51 L375.39,134.56 L377.24,134.61 L379.08,134.67 L380.92,134.72 L382.77,134.78 L384.61,134.84 L386.45,134.90 L388.29,134.97 L390.14,135.04 L391.98,135.12 L393.82,135.21 L395.67,135.30 L397.51,135.39 L399.35,135.50 L401.20,135.61 L403.04,135.74 L404.88,135.88 L406.73,136.02 L408.57,136.18 L410.41,136.36 L412.26,136.55 L414.10,136.75" stroke="#111" stroke-width="1.0" stroke-dasharray="3.2 3.0"/>
<path d="M98.78,240.67 L99.70,240.61 L100.62,240.55 L101.54,240.49 L102.46,240.42 L103.38,240.36 L104.30,240.29 L105.22,240.22 L106.14,240.16 L107.05,240.08 L107.97,240.01 L108.89,239.94 L109.81,239.86 L110.73,239.79 L111.65,239.71 L112.57,239.63 L113.49,239.55 L114.41,239.46 L115.33,239.38 L116.25,239.29 L117.17,239.20 L118.09,239.12 L119.01,239.02 L119.92,238.93 L120.84,238.84 L121.76,238.74 L122.68,238.64 L123.60,238.55 L124.52,238.44 L125.44,238.34 L126.36,238.24 L127.28,238.13 L128.20,238.03 L129.12,237.92 L130.04,237.81 L130.96,237.69 L131.88,237.58 L132.79,237.46 L133.71,237.35 L134.63,237.23 L135.55,237.11 L136.47,236.98 L137.39,236.86 L138.31,236.73 L139.23,236.61 L140.15,236.48 L141.07,236.34 L141.99,236.21 L142.91,236.08 L143.83,235.94 L144.75,235.80 L145.66,235.66 L146.58,235.52 L147.50,235.38 L148.42,235.23 L149.34,235.09 L150.26,234.94 L151.18,234.79 L152.10,234.63 L153.02,234.48 L153.94,234.32 L154.86,234.17 L155.78,234.01 L156.70,233.85 L157.62,233.68 L158.54,233.52 L159.45,233.35 L160.37,233.19 L161.29,233.02 L162.21,232.84 L163.13,232.67 L164.05,232.50 L164.97,232.32 L165.89,232.14 L166.81,231.96 L167.73,231.78 L168.65,231.59 L169.57,231.41 L170.49,231.22 L171.41,231.03 L172.32,230.84 L173.24,230.65 L174.16,230.46 L175.08,230.26 L176.00,230.06 L176.92,229.86 L177.84,229.66 L178.76,229.46 L179.68,229.26 L180.60,229.05 L181.52,228.84 L182.44,228.63 L183.36,228.42 L184.28,228.21 L185.19,228.00 L186.11,227.78 L187.03,227.56 L187.95,227.34 L188.87,227.12 L189.79,226.90 L190.71,226.67 L191.63,226.45 L192.55,226.22 L193.47,225.99 L194.39,225.76 L195.31,225.53 L196.23,225.29 L197.15,225.06 L198.06,224.82 L198.98,224.58 L199.90,224.34 L200.82,224.10 L201.74,223.85 L202.66,223.61 L203.58,223.36 L204.50,223.11 L205.42,222.86 L206.34,222.61 L207.26,222.36 L208.18,222.10 L209.10,221.84 L210.02,221.59 L210.94,221.33 L211.85,221.06 L212.77,220.80 L213.69,220.54 L214.61,220.27 L215.53,220.00 L216.45,219.73 L217.37,219.46 L218.29,219.19 L219.21,218.92 L220.13,218.64 L221.05,218.36 L221.97,218.09 L222.89,217.81 L223.81,217.53 L224.72,217.24 L225.64,216.96 L226.56,216.67 L227.48,216.38 L228.40,216.10 L229.32,215.81 L230.24,215.51 L231.16,215.22 L232.08,214.93 L233.00,214.63 L233.92,214.33 L234.84,214.03 L235.76,213.73 L236.68,213.43 L237.59,213.13 L238.51,212.82 L239.43,212.51 L240.35,212.21 L241.27,211.90 L242.19,211.59 L243.11,211.27 L244.03,210.96 L244.95,210.65 L245.87,210.33 L246.79,210.01 L247.71,209.69 L248.63,209.37 L249.55,209.05 L250.46,208.73 L251.38,208.40 L252.30,208.08 L253.22,207.75 L254.14,207.42 L255.06,207.09 L255.98,206.76 L256.90,206.42 L257.82,206.09 L258.74,205.75 L259.66,205.42 L260.58,205.08 L261.50,204.74 L262.42,204.40 L263.34,204.05 L264.25,203.71 L265.17,203.37 L266.09,203.02 L267.01,202.67 L267.93,202.32 L268.85,201.97 L269.77,201.62 L270.69,201.27 L271.61,200.91 L272.53,200.56 L273.45,200.20 L274.37,199.84 L275.29,199.48 L276.21,199.12 L277.12,198.76 L278.04,198.40 L278.96,198.03 L279.88,197.67 L280.80,197.30 L281.72,196.93 L282.64,196.56 L283.56,196.19 L284.48,195.82 L285.40,195.45 L286.32,195.07 L287.24,194.70 L288.16,194.32 L289.08,193.94 L289.99,193.56 L290.91,193.18 L291.83,192.80 L292.75,192.42 L293.67,192.04 L294.59,191.65 L295.51,191.26 L296.43,190.88 L297.35,190.49 L298.27,190.10 L299.19,189.71 L300.11,189.32 L301.03,188.92 L301.95,188.53 L302.86,188.13 L303.78,187.74 L304.70,187.34 L305.62,186.94 L306.54,186.54 L307.46,186.14 L308.38,185.74 L309.30,185.34 L310.22,184.93 L311.14,184.53 L312.06,184.12 L312.98,183.72 L313.90,183.31 L314.82,182.90 L315.74,182.49 L316.65,182.08 L317.57,181.67 L318.49,181.26 L319.41,180.84 L320.33,180.43 L321.25,180.01 L322.17,179.60 L323.09,179.18 L324.01,178.76 L324.93,178.34 L325.85,177.92 L326.77,177.50 L327.69,177.08 L328.61,176.66 L329.52,176.23 L330.44,175.81 L331.36,175.38 L332.28,174.96 L333.20,174.53 L334.12,174.11 L335.04,173.68 L335.96,173.25 L336.88,172.82 L337.80,172.39 L338.72,171.96 L339.64,171.53 L340.56,171.10 L341.48,170.66 L342.39,170.23 L343.31,169.80 L344.23,169.36 L345.15,168.93 L346.07,168.49 L346.99,168.06 L347.91,167.62 L348.83,167.18 L349.75,166.75 L350.67,166.31 L351.59,165.87 L352.51,165.43 L353.43,164.99 L354.35,164.55 L355.26,164.12 L356.18,163.68 L357.10,163.24 L358.02,162.79 L358.94,162.35 L359.86,161.91 L360.78,161.47 L361.70,161.03 L362.62,160.59 L363.54,160.15 L364.46,159.71 L365.38,159.27 L366.30,158.82 L367.22,158.38 L368.14,157.94 L369.05,157.50 L369.97,157.06 L370.89,156.62 L371.81,156.18 L372.73,155.74 L373.65,155.30 L374.57,154.86 L375.49,154.42 L376.41,153.98 L377.33,153.54 L378.25,153.10 L379.17,152.66 L380.09,152.22 L381.01,151.79 L381.92,151.35 L382.84,150.91 L383.76,150.48 L384.68,150.04 L385.60,149.61 L386.52,149.17 L387.44,148.74 L388.36,148.31 L389.28,147.88 L390.20,147.45 L391.12,147.02 L392.04,146.59 L392.96,146.16 L393.88,145.74 L394.79,145.31 L395.71,144.89 L396.63,144.47 L397.55,144.05 L398.47,143.63 L399.39,143.21 L400.31,142.79 L401.23,142.38 L402.15,141.96 L403.07,141.55 L403.99,141.14 L404.91,140.73 L405.83,140.32 L406.75,139.92 L407.66,139.51 L408.58,139.11" stroke="#22f222" stroke-width="1.2"/>
<path d="M47.30,136.75 L48.65,136.75 L50.00,136.75 L51.34,136.74 L52.69,136.73 L54.04,136.73 L55.39,136.71 L56.73,136.70 L58.08,136.69 L59.43,136.67 L60.78,136.65 L62.12,136.63 L63.47,136.61 L64.82,136.58 L66.17,136.55 L67.51,136.52 L68.86,136.49 L70.21,136.46 L71.56,136.42 L72.90,136.38 L74.25,136.34 L75.60,136.30 L76.95,136.25 L78.29,136.20 L79.64,136.15 L80.99,136.10 L82.34,136.04 L83.68,135.98 L85.03,135.92 L86.38,135.86 L87.73,135.79 L89.07,135.72 L90.42,135.65 L91.77,135.58 L93.12,135.50 L94.47,135.42 L95.81,135.34 L97.16,135.26 L98.51,135.17 L99.86,135.08 L101.20,134.99 L102.55,134.89 L103.90,134.79 L105.25,134.69 L106.59,134.58 L107.94,134.48 L109.29,134.36 L110.64,134.25 L111.98,134.13 L113.33,134.01 L114.68,133.89 L116.03,133.76 L117.37,133.63 L118.72,133.50 L120.07,133.36 L121.42,133.22 L122.76,133.07 L124.11,132.93 L125.46,132.78 L126.81,132.62 L128.15,132.46 L129.50,132.30 L130.85,132.13 L132.20,131.96 L133.54,131.79 L134.89,131.61 L136.24,131.43 L137.59,131.25 L138.94,131.06 L140.28,130.86 L141.63,130.67 L142.98,130.46 L144.33,130.26 L145.67,130.05 L147.02,129.83 L148.37,129.61 L149.72,129.39 L151.06,129.16 L152.41,128.93 L153.76,128.69 L155.11,128.45 L156.45,128.20 L157.80,127.95 L159.15,127.69 L160.50,127.43 L161.84,127.16 L163.19,126.89 L164.54,126.61 L165.89,126.33 L167.23,126.04 L168.58,125.74 L169.93,125.44 L171.28,125.14 L172.62,124.83 L173.97,124.51 L175.32,124.19 L176.67,123.86 L178.02,123.52 L179.36,123.18 L180.71,122.83 L182.06,122.48 L183.41,122.12 L184.75,121.75 L186.10,121.37 L187.45,120.99 L188.80,120.60 L190.14,120.21 L191.49,119.81 L192.84,119.39 L194.19,118.98 L195.53,118.55 L196.88,118.12 L198.23,117.67 L199.58,117.22 L200.92,116.77 L202.27,116.30 L203.62,115.82 L204.97,115.34 L206.31,114.85 L207.66,114.35 L209.01,113.83 L210.36,113.31 L211.70,112.78 L213.05,112.24 L214.40,111.69 L215.75,111.13 L217.09,110.56 L218.44,109.98 L219.79,109.38 L221.14,108.78 L222.49,108.16 L223.83,107.53 L225.18,106.89 L226.53,106.24 L227.88,105.58 L229.22,104.90 L230.57,104.21 L231.92,103.50 L233.27,102.79 L234.61,102.05 L235.96,101.31 L237.31,100.55 L238.66,99.77 L240.00,98.98 L241.35,98.17 L242.70,97.35 L244.05,96.51 L245.39,95.65 L246.74,94.77 L248.09,93.88 L249.44,92.97 L250.78,92.03 L252.13,91.08 L253.48,90.11 L254.83,89.12 L256.17,88.10 L257.52,87.07 L258.87,86.01 L260.22,84.93 L261.56,83.82 L262.91,82.69 L264.26,81.53 L265.61,80.35 L266.96,79.14 L268.30,77.90 L269.65,76.64 L271.00,75.34 L272.35,74.01 L273.69,72.65 L275.04,71.26 L276.39,69.84 L277.74,68.38 L279.08,66.88 L280.43,65.34 L281.78,63.77 L283.13,62.15 L284.47,60.49 L285.82,58.79 L287.17,57.04 L288.52,55.25 L289.86,53.41 L291.21,51.51 L292.56,49.57 L293.91,47.57 L295.25,45.51 L296.60,43.39 L297.95,41.21 L299.30,38.96 L300.64,36.64 L301.99,34.26 L303.34,31.80 L304.69,29.26 L306.03,26.64 L307.38,23.94 L308.73,21.14 L310.08,18.25 L311.43,15.27 L312.77,12.18 L314.12,8.98 L315.47,5.66" stroke="#f00" stroke-width="1.05"/>
<path d="M47.30,190.20 L49.14,189.89 L50.99,189.60 L52.83,189.31 L54.67,189.03 L56.52,188.77 L58.36,188.51 L60.20,188.27 L62.05,188.04 L63.89,187.81 L65.73,187.60 L67.58,187.40 L69.42,187.21 L71.26,187.03 L73.11,186.87 L74.95,186.71 L76.79,186.57 L78.63,186.43 L80.48,186.31 L82.32,186.19 L84.16,186.09 L86.01,186.00 L87.85,185.92 L89.69,185.86 L91.54,185.80 L93.38,185.75 L95.22,185.72 L97.07,185.69 L98.91,185.68 L100.75,185.68 L102.60,185.68 L104.44,185.70 L106.28,185.73 L108.13,185.77 L109.97,185.82 L111.81,185.88 L113.66,185.95 L115.50,186.03 L117.34,186.12 L119.19,186.22 L121.03,186.33 L122.87,186.46 L124.72,186.59 L126.56,186.73 L128.40,186.88 L130.24,187.04 L132.09,187.20 L133.93,187.38 L135.77,187.57 L137.62,187.76 L139.46,187.97 L141.30,188.18 L143.15,188.41 L144.99,188.64 L146.83,188.87 L148.68,189.12 L150.52,189.38 L152.36,189.64 L154.21,189.91 L156.05,190.19 L157.89,190.48 L159.74,190.77 L161.58,191.07 L163.42,191.38 L165.27,191.69 L167.11,192.02 L168.95,192.34 L170.80,192.68 L172.64,193.02 L174.48,193.37 L176.33,193.72 L178.17,194.08 L180.01,194.45 L181.85,194.82 L183.70,195.19 L185.54,195.57 L187.38,195.96 L189.23,196.35 L191.07,196.74 L192.91,197.14 L194.76,197.55 L196.60,197.96 L198.44,198.37 L200.29,198.79 L202.13,199.21 L203.97,199.63 L205.82,200.06 L207.66,200.49 L209.50,200.92 L211.35,201.36 L213.19,201.80 L215.03,202.24 L216.88,202.68 L218.72,203.13 L220.56,203.58 L222.41,204.03 L224.25,204.48 L226.09,204.93 L227.94,205.39 L229.78,205.84 L231.62,206.30 L233.46,206.76 L235.31,207.22 L237.15,207.67 L238.99,208.13 L240.84,208.60 L242.68,209.06 L244.52,209.52 L246.37,209.98 L248.21,210.44 L250.05,210.90 L251.90,211.36 L253.74,211.82 L255.58,212.27 L257.43,212.73 L259.27,213.19 L261.11,213.64 L262.96,214.10 L264.80,214.55 L266.64,215.00 L268.49,215.45 L270.33,215.90 L272.17,216.34 L274.02,216.79 L275.86,217.23 L277.70,217.67 L279.55,218.11 L281.39,218.54 L283.23,218.98 L285.07,219.41 L286.92,219.83 L288.76,220.26 L290.60,220.68 L292.45,221.10 L294.29,221.52 L296.13,221.93 L297.98,222.34 L299.82,222.75 L301.66,223.15 L303.51,223.56 L305.35,223.95 L307.19,224.35 L309.04,224.74 L310.88,225.13 L312.72,225.52 L314.57,225.90 L316.41,226.28 L318.25,226.65 L320.10,227.03 L321.94,227.39 L323.78,227.76 L325.63,228.12 L327.47,228.48 L329.31,228.84 L331.16,229.19 L333.00,229.54 L334.84,229.88 L336.68,230.23 L338.53,230.57 L340.37,230.90 L342.21,231.24 L344.06,231.57 L345.90,231.90 L347.74,232.22 L349.59,232.55 L351.43,232.87 L353.27,233.19 L355.12,233.50 L356.96,233.81 L358.80,234.13 L360.65,234.44 L362.49,234.74 L364.33,235.05 L366.18,235.35 L368.02,235.66 L369.86,235.96 L371.71,236.26 L373.55,236.56 L375.39,236.86 L377.24,237.16 L379.08,237.46 L380.92,237.76 L382.77,238.05 L384.61,238.35 L386.45,238.65 L388.29,238.95 L390.14,239.26 L391.98,239.56 L393.82,239.86 L395.67,240.17 L397.51,240.48 L399.35,240.79 L401.20,241.10 L403.04,241.42 L404.88,241.74 L406.73,242.06 L408.57,242.39 L410.41,242.72 L412.26,243.06 L414.10,243.40" stroke="#f00" stroke-width="1.05"/>
<path d="M47.30,242.70 L49.14,242.68 L50.99,242.66 L52.83,242.64 L54.67,242.61 L56.52,242.58 L58.36,242.55 L60.20,242.51 L62.05,242.47 L63.89,242.43 L65.73,242.39 L67.58,242.34 L69.42,242.29 L71.26,242.23 L73.11,242.18 L74.95,242.12 L76.79,242.05 L78.63,241.99 L80.48,241.92 L82.32,241.85 L84.16,241.78 L86.01,241.70 L87.85,241.62 L89.69,241.54 L91.54,241.45 L93.38,241.36 L95.22,241.27 L97.07,241.17 L98.91,241.07 L100.75,240.97 L102.60,240.86 L104.44,240.75 L106.28,240.63 L108.13,240.52 L109.97,240.39 L111.81,240.27 L113.66,240.14 L115.50,240.00 L117.34,239.86 L119.19,239.72 L121.03,239.57 L122.87,239.42 L124.72,239.26 L126.56,239.10 L128.40,238.94 L130.24,238.77 L132.09,238.59 L133.93,238.41 L135.77,238.22 L137.62,238.03 L139.46,237.83 L141.30,237.63 L143.15,237.42 L144.99,237.21 L146.83,236.99 L148.68,236.76 L150.52,236.53 L152.36,236.29 L154.21,236.05 L156.05,235.80 L157.89,235.54 L159.74,235.28 L161.58,235.01 L163.42,234.73 L165.27,234.45 L167.11,234.16 L168.95,233.86 L170.80,233.56 L172.64,233.24 L174.48,232.93 L176.33,232.60 L178.17,232.27 L180.01,231.93 L181.85,231.58 L183.70,231.23 L185.54,230.86 L187.38,230.49 L189.23,230.12 L191.07,229.73 L192.91,229.34 L194.76,228.94 L196.60,228.53 L198.44,228.11 L200.29,227.69 L202.13,227.26 L203.97,226.82 L205.82,226.37 L207.66,225.91 L209.50,225.45 L211.35,224.97 L213.19,224.49 L215.03,224.01 L216.88,223.51 L218.72,223.00 L220.56,222.49 L222.41,221.97 L224.25,221.44 L226.09,220.91 L227.94,220.36 L229.78,219.81 L231.62,219.25 L233.46,218.68 L235.31,218.10 L237.15,217.52 L238.99,216.92 L240.84,216.32 L242.68,215.72 L244.52,215.10 L246.37,214.48 L248.21,213.84 L250.05,213.20 L251.90,212.56 L253.74,211.90 L255.58,211.24 L257.43,210.57 L259.27,209.90 L261.11,209.21 L262.96,208.52 L264.80,207.82 L266.64,207.12 L268.49,206.40 L270.33,205.69 L272.17,204.96 L274.02,204.23 L275.86,203.49 L277.70,202.74 L279.55,201.99 L281.39,201.23 L283.23,200.47 L285.07,199.70 L286.92,198.92 L288.76,198.14 L290.60,197.35 L292.45,196.55 L294.29,195.75 L296.13,194.95 L297.98,194.14 L299.82,193.32 L301.66,192.50 L303.51,191.67 L305.35,190.84 L307.19,190.01 L309.04,189.17 L310.88,188.32 L312.72,187.47 L314.57,186.62 L316.41,185.76 L318.25,184.90 L320.10,184.03 L321.94,183.16 L323.78,182.29 L325.63,181.41 L327.47,180.53 L329.31,179.64 L331.16,178.76 L333.00,177.87 L334.84,176.97 L336.68,176.08 L338.53,175.18 L340.37,174.27 L342.21,173.37 L344.06,172.46 L345.90,171.55 L347.74,170.64 L349.59,169.73 L351.43,168.81 L353.27,167.89 L355.12,166.97 L356.96,166.05 L358.80,165.12 L360.65,164.20 L362.49,163.27 L364.33,162.34 L366.18,161.41 L368.02,160.48 L369.86,159.55 L371.71,158.61 L373.55,157.68 L375.39,156.74 L377.24,155.80 L379.08,154.86 L380.92,153.92 L382.77,152.98 L384.61,152.03 L386.45,151.09 L388.29,150.14 L390.14,149.20 L391.98,148.25 L393.82,147.30 L395.67,146.35 L397.51,145.40 L399.35,144.44 L401.20,143.49 L403.04,142.53 L404.88,141.57 L406.73,140.61 L408.57,139.65 L410.41,138.68 L412.26,137.72 L414.10,136.75" stroke="#f00" stroke-width="1.05"/>
<g transform="translate(-0.2,-0.2)"><path d="M47.30,136.75 L48.65,136.75 L50.00,136.75 L51.34,136.74 L52.69,136.73 L54.04,136.73 L55.39,136.71 L56.73,136.70 L58.08,136.69 L59.43,136.67 L60.78,136.65 L62.12,136.63 L63.47,136.61 L64.82,136.58 L66.17,136.55 L67.51,136.52 L68.86,136.49 L70.21,136.46 L71.56,136.42 L72.90,136.38 L74.25,136.34 L75.60,136.30 L76.95,136.25 L78.29,136.20 L79.64,136.15 L80.99,136.10 L82.34,136.04 L83.68,135.98 L85.03,135.92 L86.38,135.86 L87.73,135.79 L89.07,135.72 L90.42,135.65 L91.77,135.58 L93.12,135.50 L94.47,135.42 L95.81,135.34 L97.16,135.26 L98.51,135.17 L99.86,135.08 L101.20,134.99 L102.55,134.89 L103.90,134.79 L105.25,134.69 L106.59,134.58 L107.94,134.48 L109.29,134.36 L110.64,134.25 L111.98,134.13 L113.33,134.01 L114.68,133.89 L116.03,133.76 L117.37,133.63 L118.72,133.50 L120.07,133.36 L121.42,133.22 L122.76,133.07 L124.11,132.93 L125.46,132.78 L126.81,132.62 L128.15,132.46 L129.50,132.30 L130.85,132.13 L132.20,131.96 L133.54,131.79 L134.89,131.61 L136.24,131.43 L137.59,131.25 L138.94,131.06 L140.28,130.86 L141.63,130.67 L142.98,130.46 L144.33,130.26 L145.67,130.05 L147.02,129.83 L148.37,129.61 L149.72,129.39 L151.06,129.16 L152.41,128.93 L153.76,128.69 L155.11,128.45 L156.45,128.20 L157.80,127.95 L159.15,127.69 L160.50,127.43 L161.84,127.16 L163.19,126.89 L164.54,126.61 L165.89,126.33 L167.23,126.04 L168.58,125.74 L169.93,125.44 L171.28,125.14 L172.62,124.83 L173.97,124.51 L175.32,124.19 L176.67,123.86 L178.02,123.52 L179.36,123.18 L180.71,122.83 L182.06,122.48 L183.41,122.12 L184.75,121.75 L186.10,121.37 L187.45,120.99 L188.80,120.60 L190.14,120.21 L191.49,119.81 L192.84,119.39 L194.19,118.98 L195.53,118.55 L196.88,118.12 L198.23,117.67 L199.58,117.22 L200.92,116.77 L202.27,116.30 L203.62,115.82 L204.97,115.34 L206.31,114.85 L207.66,114.35 L209.01,113.83 L210.36,113.31 L211.70,112.78 L213.05,112.24 L214.40,111.69 L215.75,111.13 L217.09,110.56 L218.44,109.98 L219.79,109.38 L221.14,108.78 L222.49,108.16 L223.83,107.53 L225.18,106.89 L226.53,106.24 L227.88,105.58 L229.22,104.90 L230.57,104.21 L231.92,103.50 L233.27,102.79 L234.61,102.05 L235.96,101.31 L237.31,100.55 L238.66,99.77 L240.00,98.98 L241.35,98.17 L242.70,97.35 L244.05,96.51 L245.39,95.65 L246.74,94.77 L248.09,93.88 L249.44,92.97 L250.78,92.03 L252.13,91.08 L253.48,90.11 L254.83,89.12 L256.17,88.10 L257.52,87.07 L258.87,86.01 L260.22,84.93 L261.56,83.82 L262.91,82.69 L264.26,81.53 L265.61,80.35 L266.96,79.14 L268.30,77.90 L269.65,76.64 L271.00,75.34 L272.35,74.01 L273.69,72.65 L275.04,71.26 L276.39,69.84 L277.74,68.38 L279.08,66.88 L280.43,65.34 L281.78,63.77 L283.13,62.15 L284.47,60.49 L285.82,58.79 L287.17,57.04 L288.52,55.25 L289.86,53.41 L291.21,51.51 L292.56,49.57 L293.91,47.57 L295.25,45.51 L296.60,43.39 L297.95,41.21 L299.30,38.96 L300.64,36.64 L301.99,34.26 L303.34,31.80 L304.69,29.26 L306.03,26.64 L307.38,23.94 L308.73,21.14 L310.08,18.25 L311.43,15.27 L312.77,12.18 L314.12,8.98 L315.47,5.66" stroke="#2222ff" stroke-width="1.25" stroke-dasharray="2.6 3.5"/></g>
<path d="M47.30,190.20 L49.14,189.86 L50.99,189.54 L52.83,189.25 L54.67,188.98 L56.52,188.73 L58.36,188.50 L60.20,188.29 L62.05,188.11 L63.89,187.94 L65.73,187.80 L67.58,187.67 L69.42,187.56 L71.26,187.47 L73.11,187.40 L74.95,187.35 L76.79,187.31 L78.63,187.29 L80.48,187.28 L82.32,187.30 L84.16,187.32 L86.01,187.36 L87.85,187.42 L89.69,187.49 L91.54,187.58 L93.38,187.67 L95.22,187.78 L97.07,187.91 L98.91,188.04 L100.75,188.19 L102.60,188.35 L104.44,188.53 L106.28,188.71 L108.13,188.90 L109.97,189.11 L111.81,189.32 L113.66,189.54 L115.50,189.78 L117.34,190.02 L119.19,190.27 L121.03,190.53 L122.87,190.80 L124.72,191.08 L126.56,191.36 L128.40,191.65 L130.24,191.95 L132.09,192.26 L133.93,192.57 L135.77,192.89 L137.62,193.21 L139.46,193.54 L141.30,193.88 L143.15,194.22 L144.99,194.57 L146.83,194.93 L148.68,195.28 L150.52,195.65 L152.36,196.01 L154.21,196.38 L156.05,196.76 L157.89,197.14 L159.74,197.52 L161.58,197.90 L163.42,198.29 L165.27,198.69 L167.11,199.08 L168.95,199.48 L170.80,199.88 L172.64,200.28 L174.48,200.69 L176.33,201.09 L178.17,201.50 L180.01,201.91 L181.85,202.32 L183.70,202.74 L185.54,203.15 L187.38,203.57 L189.23,203.98 L191.07,204.40 L192.91,204.82 L194.76,205.24 L196.60,205.66 L198.44,206.08 L200.29,206.50 L202.13,206.92 L203.97,207.34 L205.82,207.76 L207.66,208.18 L209.50,208.60 L211.35,209.02 L213.19,209.44 L215.03,209.86 L216.88,210.27 L218.72,210.69 L220.56,211.11 L222.41,211.52 L224.25,211.94 L226.09,212.35 L227.94,212.76 L229.78,213.18 L231.62,213.59 L233.46,213.99 L235.31,214.40 L237.15,214.81 L238.99,215.21 L240.84,215.62 L242.68,216.02 L244.52,216.42 L246.37,216.82 L248.21,217.21 L250.05,217.61 L251.90,218.00 L253.74,218.39 L255.58,218.78 L257.43,219.17 L259.27,219.55 L261.11,219.93 L262.96,220.32 L264.80,220.69 L266.64,221.07 L268.49,221.45 L270.33,221.82 L272.17,222.19 L274.02,222.56 L275.86,222.92 L277.70,223.29 L279.55,223.65 L281.39,224.01 L283.23,224.36 L285.07,224.72 L286.92,225.07 L288.76,225.42 L290.60,225.77 L292.45,226.11 L294.29,226.45 L296.13,226.79 L297.98,227.13 L299.82,227.47 L301.66,227.80 L303.51,228.13 L305.35,228.46 L307.19,228.78 L309.04,229.11 L310.88,229.43 L312.72,229.75 L314.57,230.06 L316.41,230.37 L318.25,230.69 L320.10,230.99 L321.94,231.30 L323.78,231.60 L325.63,231.90 L327.47,232.20 L329.31,232.50 L331.16,232.79 L333.00,233.08 L334.84,233.37 L336.68,233.66 L338.53,233.94 L340.37,234.22 L342.21,234.50 L344.06,234.78 L345.90,235.05 L347.74,235.32 L349.59,235.59 L351.43,235.86 L353.27,236.12 L355.12,236.39 L356.96,236.64 L358.80,236.90 L360.65,237.16 L362.49,237.41 L364.33,237.66 L366.18,237.90 L368.02,238.15 L369.86,238.39 L371.71,238.63 L373.55,238.86 L375.39,239.10 L377.24,239.33 L379.08,239.56 L380.92,239.79 L382.77,240.01 L384.61,240.23 L386.45,240.45 L388.29,240.67 L390.14,240.88 L391.98,241.09 L393.82,241.30 L395.67,241.50 L397.51,241.71 L399.35,241.91 L401.20,242.10 L403.04,242.30 L404.88,242.49 L406.73,242.68 L408.57,242.86 L410.41,243.04 L412.26,243.22 L414.10,243.40" stroke="#2222ff" stroke-width="1.25" stroke-dasharray="3.1 3.0"/>
<path d="M47.30,242.70 L49.14,242.68 L50.99,242.66 L52.83,242.64 L54.67,242.61 L56.52,242.58 L58.36,242.55 L60.20,242.51 L62.05,242.47 L63.89,242.43 L65.73,242.39 L67.58,242.34 L69.42,242.29 L71.26,242.23 L73.11,242.18 L74.95,242.12 L76.79,242.05 L78.63,241.99 L80.48,241.92 L82.32,241.85 L84.16,241.78 L86.01,241.70 L87.85,241.62 L89.69,241.54 L91.54,241.45 L93.38,241.36 L95.22,241.27 L97.07,241.17 L98.91,241.07 L100.75,240.97 L102.60,240.86 L104.44,240.75 L106.28,240.63 L108.13,240.52 L109.97,240.39 L111.81,240.27 L113.66,240.14 L115.50,240.00 L117.34,239.86 L119.19,239.72 L121.03,239.57 L122.87,239.42 L124.72,239.26 L126.56,239.10 L128.40,238.94 L130.24,238.77 L132.09,238.59 L133.93,238.41 L135.77,238.22 L137.62,238.03 L139.46,237.83 L141.30,237.63 L143.15,237.42 L144.99,237.21 L146.83,236.99 L148.68,236.76 L150.52,236.53 L152.36,236.29 L154.21,236.05 L156.05,235.80 L157.89,235.54 L159.74,235.28 L161.58,235.01 L163.42,234.73 L165.27,234.45 L167.11,234.16 L168.95,233.86 L170.80,233.56 L172.64,233.24 L174.48,232.93 L176.33,232.60 L178.17,232.27 L180.01,231.93 L181.85,231.58 L183.70,231.23 L185.54,230.86 L187.38,230.49 L189.23,230.12 L191.07,229.73 L192.91,229.34 L194.76,228.94 L196.60,228.53 L198.44,228.11 L200.29,227.69 L202.13,227.26 L203.97,226.82 L205.82,226.37 L207.66,225.91 L209.50,225.45 L211.35,224.97 L213.19,224.49 L215.03,224.01 L216.88,223.51 L218.72,223.00 L220.56,222.49 L222.41,221.97 L224.25,221.44 L226.09,220.91 L227.94,220.36 L229.78,219.81 L231.62,219.25 L233.46,218.68 L235.31,218.10 L237.15,217.52 L238.99,216.92 L240.84,216.32 L242.68,215.72 L244.52,215.10 L246.37,214.48 L248.21,213.84 L250.05,213.20 L251.90,212.56 L253.74,211.90 L255.58,211.24 L257.43,210.57 L259.27,209.90 L261.11,209.21 L262.96,208.52 L264.80,207.82 L266.64,207.12 L268.49,206.40 L270.33,205.69 L272.17,204.96 L274.02,204.23 L275.86,203.49 L277.70,202.74 L279.55,201.99 L281.39,201.23 L283.23,200.47 L285.07,199.70 L286.92,198.92 L288.76,198.14 L290.60,197.35 L292.45,196.55 L294.29,195.75 L296.13,194.95 L297.98,194.14 L299.82,193.32 L301.66,192.50 L303.51,191.67 L305.35,190.84 L307.19,190.01 L309.04,189.17 L310.88,188.32 L312.72,187.47 L314.57,186.62 L316.41,185.76 L318.25,184.90 L320.10,184.03 L321.94,183.16 L323.78,182.29 L325.63,181.41 L327.47,180.53 L329.31,179.64 L331.16,178.76 L333.00,177.87 L334.84,176.97 L336.68,176.08 L338.53,175.18 L340.37,174.27 L342.21,173.37 L344.06,172.46 L345.90,171.55 L347.74,170.64 L349.59,169.73 L351.43,168.81 L353.27,167.89 L355.12,166.97 L356.96,166.05 L358.80,165.12 L360.65,164.20 L362.49,163.27 L364.33,162.34 L366.18,161.41 L368.02,160.48 L369.86,159.55 L371.71,158.61 L373.55,157.68 L375.39,156.74 L377.24,155.80 L379.08,154.86 L380.92,153.92 L382.77,152.98 L384.61,152.03 L386.45,151.09 L388.29,150.14 L390.14,149.20 L391.98,148.25 L393.82,147.30 L395.67,146.35 L397.51,145.40 L399.35,144.44 L401.20,143.49 L403.04,142.53 L404.88,141.57 L406.73,140.61 L408.57,139.65 L410.41,138.68 L412.26,137.72 L414.10,136.75" stroke="#2222ff" stroke-width="1.25" stroke-dasharray="3.1 3.0"/>
</g>
<g>
<path d="M149.9,28.75 H175.8" stroke="#111" stroke-width="1.0"/>
<path d="M149.9,46.91 H175.8" stroke="#111" stroke-width="1.0" stroke-dasharray="3.2 3.0"/>
<path d="M149.9,65.07 H175.8" stroke="#c82020" stroke-width="1.15" stroke-dasharray="1.25 1.8"/>
<path d="M149.9,83.23 H175.8" stroke="#22f222" stroke-width="1.2"/>
<path d="M149.9,101.39 H175.8" stroke="#f00" stroke-width="1.05"/>
<path d="M149.9,119.55 H175.8" stroke="#2222ff" stroke-width="1.25" stroke-dasharray="3.1 3.0"/>
</g>
<path d="M47.30,14.50 H414.10 V253.80 H47.30 Z M47.30,253.80 v-4.0 M47.30,14.50 v4.0 M120.66,253.80 v-4.0 M120.66,14.50 v4.0 M194.02,253.80 v-4.0 M194.02,14.50 v4.0 M267.38,253.80 v-4.0 M267.38,14.50 v4.0 M340.74,253.80 v-4.0 M340.74,14.50 v4.0 M414.10,253.80 v-4.0 M414.10,14.50 v4.0 M47.30,243.60 h4.0 M414.10,243.60 h-4.0 M47.30,190.18 h4.0 M414.10,190.18 h-4.0 M47.30,136.75 h4.0 M414.10,136.75 h-4.0 M47.30,83.33 h4.0 M414.10,83.33 h-4.0 M47.30,29.90 h4.0 M414.10,29.90 h-4.0" stroke="#3a3a3a" stroke-width="1.2" />
<g xml:space="preserve" filter="url(#bl)">
<text x="39.55" y="247.60" font-size="12" text-anchor="end" >0</text>
<text x="39.55" y="194.18" font-size="12" text-anchor="end" >0.5</text>
<text x="39.55" y="140.75" font-size="12" text-anchor="end" >1</text>
<text x="39.55" y="87.33" font-size="12" text-anchor="end" >1.5</text>
<text x="39.55" y="33.90" font-size="12" text-anchor="end" >2</text>
<text x="49.00" y="270.25" font-size="12" text-anchor="middle" >0</text>
<text x="122.36" y="270.25" font-size="12" text-anchor="middle" >0.2</text>
<text x="195.72" y="270.25" font-size="12" text-anchor="middle" >0.4</text>
<text x="269.08" y="270.25" font-size="12" text-anchor="middle" >0.6</text>
<text x="342.44" y="270.25" font-size="12" text-anchor="middle" >0.8</text>
<text x="415.80" y="270.25" font-size="12" text-anchor="middle" >1</text>
<text transform="scale(1.0800,1)" x="188.05" y="287.90" font-size="14.5">η</text>
<text x="211.50" y="287.90" font-size="14" text-anchor="start" >/</text>
<text x="216.23" y="287.90" font-size="14" text-anchor="start" >(</text>
<text transform="scale(1.0800,1)" x="204.43" y="287.90" font-size="14.5">η</text>
<text x="228.82" y="288.20" font-size="14" text-anchor="start" >+</text>
<text transform="scale(1.0800,1)" x="219.25" y="287.90" font-size="14.5">η</text>
<text transform="scale(1.0500,1)" x="233.30" y="291.40" font-size="13">0</text>
<text x="253.52" y="287.90" font-size="14" text-anchor="start" >)</text>
<text x="304.22" y="58.40" font-size="12" text-anchor="start" >R</text>
<text x="312.29" y="62.10" font-size="9.6" text-anchor="start" >c</text>
<text x="317.10" y="58.40" font-size="12" text-anchor="start" >/</text>
<text x="321.02" y="58.40" font-size="12" text-anchor="start" >R</text>
<text x="329.25" y="62.30" font-size="9.6" text-anchor="start" >t</text>
<text transform="scale(1.0700,1)" x="318.28" y="125.40" font-size="13">ϕ</text>
<text x="340.58" y="156.25" font-size="14" text-anchor="start" >-</text>
<text x="345.51" y="156.25" font-size="14" text-anchor="start" >g</text>
<text x="353.83" y="160.85" font-size="11.2" text-anchor="start" >tt</text>
<text transform="scale(1.0700,1)" x="318.09" y="223.40" font-size="13">ϕ</text>
<text x="52.15" y="33.80" font-size="14" text-anchor="start" >F</text>
<rect x="61.80" y="28.82" width="6.70" height="1.15" fill="#1a1a1a"/>
<rect x="61.80" y="31.17" width="6.70" height="1.15" fill="#1a1a1a"/>
<text x="69.71" y="33.80" font-size="14" text-anchor="start" letter-spacing="0.730">αe</text>
<text x="87.22" y="26.30" font-size="10.8" text-anchor="start" >-</text>
<text x="94.18" y="26.30" font-size="10.8" text-anchor="start" >ϕ</text>
<text x="99.84" y="33.80" font-size="14" text-anchor="start" >,</text>
<text x="108.15" y="33.80" font-size="14" text-anchor="start" >ϕ</text>
<text transform="scale(1.2475,1)" x="92.72" y="37.58" font-size="12">∞</text>
<rect x="127.10" y="28.82" width="6.35" height="1.15" fill="#1a1a1a"/>
<rect x="127.10" y="31.17" width="6.35" height="1.15" fill="#1a1a1a"/>
<text x="134.65" y="33.80" font-size="14" text-anchor="start" >0</text>
<text x="52.15" y="52.00" font-size="14" text-anchor="start" >F</text>
<rect x="61.80" y="47.02" width="6.70" height="1.15" fill="#1a1a1a"/>
<rect x="61.80" y="49.38" width="6.70" height="1.15" fill="#1a1a1a"/>
<text x="69.71" y="52.00" font-size="14" text-anchor="start" letter-spacing="0.730">αe</text>
<text x="87.17" y="44.60" font-size="10.8" text-anchor="start" >+</text>
<text x="94.18" y="44.60" font-size="10.8" text-anchor="start" >ϕ</text>
<text x="99.84" y="52.00" font-size="14" text-anchor="start" >,</text>
<text x="108.15" y="52.00" font-size="14" text-anchor="start" >ϕ</text>
<text transform="scale(1.2475,1)" x="92.72" y="55.78" font-size="12">∞</text>
<rect x="127.10" y="47.02" width="6.35" height="1.15" fill="#1a1a1a"/>
<rect x="127.10" y="49.38" width="6.35" height="1.15" fill="#1a1a1a"/>
<text x="133.93" y="52.00" font-size="14" text-anchor="start" >1</text>
<text x="54.05" y="68.10" font-size="14" text-anchor="start" >F</text>
<rect x="63.70" y="63.12" width="6.70" height="1.15" fill="#1a1a1a"/>
<rect x="63.70" y="65.47" width="6.70" height="1.15" fill="#1a1a1a"/>
<text x="71.61" y="68.10" font-size="14" text-anchor="start" letter-spacing="0.100">αϕ</text>
<text x="52.15" y="87.70" font-size="14" text-anchor="start" >F</text>
<rect x="61.80" y="82.72" width="6.70" height="1.15" fill="#1a1a1a"/>
<rect x="61.80" y="85.08" width="6.70" height="1.15" fill="#1a1a1a"/>
<text x="69.71" y="87.70" font-size="14" text-anchor="start" letter-spacing="0.100">αϕ</text>
<text x="86.56" y="81.80" font-size="10.8" text-anchor="start" >2</text>
<text x="91.74" y="87.70" font-size="14" text-anchor="start" >,</text>
<text x="103.95" y="87.70" font-size="14" text-anchor="start" >ϕ</text>
<text transform="scale(1.2873,1)" x="86.42" y="92.38" font-size="12">∞</text>
<rect x="123.15" y="82.72" width="6.35" height="1.15" fill="#1a1a1a"/>
<rect x="123.15" y="85.08" width="6.35" height="1.15" fill="#1a1a1a"/>
<text x="129.53" y="87.70" font-size="14" text-anchor="start" >1</text>
<text x="52.15" y="105.90" font-size="14" text-anchor="start" >F</text>
<rect x="61.80" y="100.92" width="6.70" height="1.15" fill="#1a1a1a"/>
<rect x="61.80" y="103.28" width="6.70" height="1.15" fill="#1a1a1a"/>
<text x="69.71" y="105.90" font-size="14" text-anchor="start" letter-spacing="0.100">αϕ</text>
<text x="86.56" y="100.00" font-size="10.8" text-anchor="start" >2</text>
<text x="91.74" y="105.90" font-size="14" text-anchor="start" >,</text>
<text x="103.95" y="105.90" font-size="14" text-anchor="start" >ϕ</text>
<text transform="scale(1.2873,1)" x="86.42" y="110.58" font-size="12">∞</text>
<rect x="123.15" y="100.92" width="6.35" height="1.15" fill="#1a1a1a"/>
<rect x="123.15" y="103.28" width="6.35" height="1.15" fill="#1a1a1a"/>
<text x="130.35" y="105.90" font-size="14" text-anchor="start" >0</text>
<text x="52.15" y="124.10" font-size="14" text-anchor="start" >F</text>
<rect x="61.80" y="119.12" width="6.70" height="1.15" fill="#1a1a1a"/>
<rect x="61.80" y="121.47" width="6.70" height="1.15" fill="#1a1a1a"/>
<text x="69.71" y="124.10" font-size="14" text-anchor="start" letter-spacing="0.100">αϕ</text>
<text x="86.69" y="118.20" font-size="10.8" text-anchor="start" >3</text>
<text x="91.74" y="124.10" font-size="14" text-anchor="start" >,</text>
<text x="103.95" y="124.10" font-size="14" text-anchor="start" >ϕ</text>
<text transform="scale(1.2873,1)" x="86.42" y="128.78" font-size="12">∞</text>
<rect x="123.15" y="119.12" width="6.35" height="1.15" fill="#1a1a1a"/>
<rect x="123.15" y="121.47" width="6.35" height="1.15" fill="#1a1a1a"/>
<text x="130.35" y="124.10" font-size="14" text-anchor="start" >0</text>
</g>
</svg>
</body></html>
